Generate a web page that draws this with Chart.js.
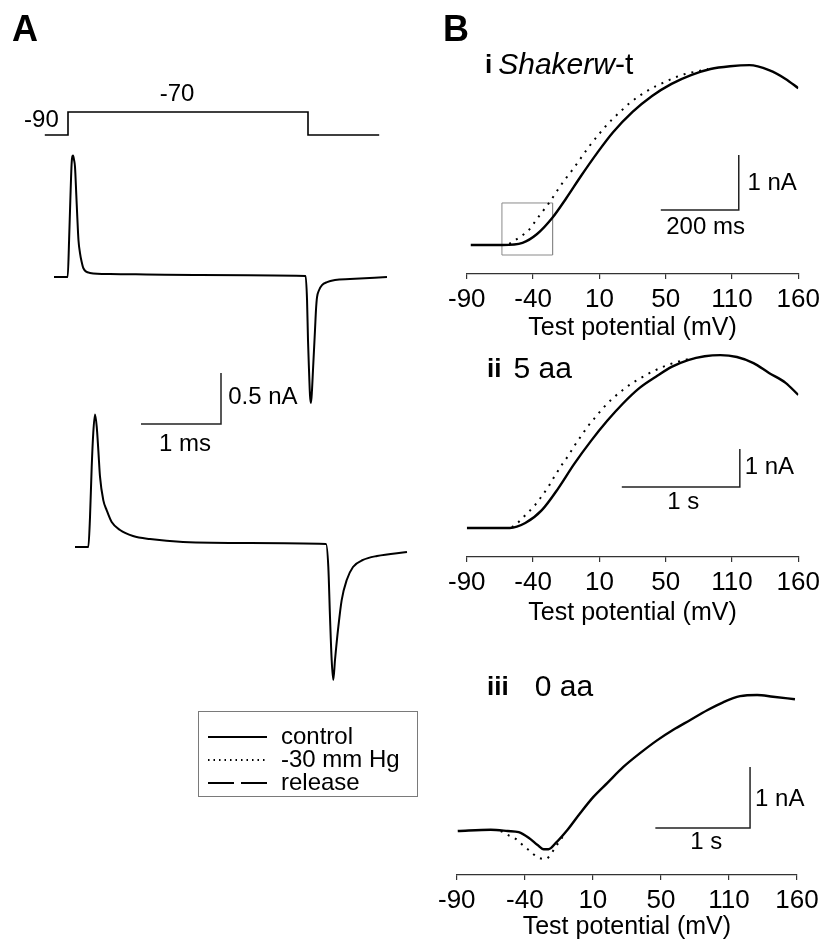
<!DOCTYPE html>
<html><head><meta charset="utf-8">
<script src="https://cdn.jsdelivr.net/npm/chart.js@4.4.0/dist/chart.umd.min.js"></script>
<style>
html,body{margin:0;padding:0;background:#fff;}
#wrap{position:relative;width:828px;height:942px;overflow:hidden;background:#fff;}
canvas{position:absolute;}
.plabel{position:absolute;font:bold 36px 'Liberation Sans',Arial,sans-serif;color:#000;line-height:36px;}
</style></head><body>
<div id="wrap">
<canvas id="cA" style="left:0px;top:0px;width:440px;height:820px" width="440" height="820"></canvas>
<canvas id="cB1" style="left:440px;top:40px;width:388px;height:303px" width="388" height="303"></canvas>
<canvas id="cB2" style="left:440px;top:343px;width:388px;height:285px" width="388" height="285"></canvas>
<canvas id="cB3" style="left:430px;top:628px;width:398px;height:314px" width="398" height="314"></canvas>
<div class="plabel" style="left:12px;top:11px">A</div>
<div class="plabel" style="left:443px;top:11px">B</div>
</div>
<script>
// ---------------- DATA ----------------
// Panel A: voltage protocol (ms, mV)
const protoTime = [-0.29, 0, 0, 3.0, 3.0, 3.89];
const protoVolt = [-90, -90, -70, -70, -90, -90];
// Panel A: upper current trace (ms, nA)
const trace1Time = [-0.175, -0.004, 0.014, 0.029, 0.046, 0.0625, 0.075, 0.0875, 0.104, 0.116, 0.131, 0.15, 0.171, 0.191, 0.275, 0.525, 1.65, 2.97, 2.988, 3.0, 3.0125, 3.025, 3.0375, 3.05, 3.0625, 3.0875, 3.1, 3.1125, 3.1375, 3.175, 3.2375, 3.3375, 3.525, 3.9875];
const trace1Curr = [0, 0, 0.37, 0.75, 1.12, 1.19, 1.15, 1.08, 0.8, 0.59, 0.36, 0.235, 0.147, 0.088, 0.04, 0.03, 0.02, 0.01, -0.225, -0.62, -0.91, -1.16, -1.235, -1.11, -0.91, -0.52, -0.32, -0.2, -0.13, -0.08, -0.05, -0.03, -0.02, 0];
// Panel A: lower current trace (ms, nA)
const trace2Time = [0.0875, 0.254, 0.275, 0.296, 0.316, 0.3375, 0.359, 0.379, 0.4, 0.441, 0.484, 0.546, 0.65, 0.8125, 1.025, 1.4375, 2.275, 3.225, 3.254, 3.275, 3.296, 3.316, 3.3375, 3.379, 3.421, 3.484, 3.5625, 3.6875, 3.8625, 4.2375];
const trace2Curr = [0, 0, 0.29, 0.78, 1.12, 1.30, 1.18, 0.95, 0.69, 0.46, 0.36, 0.245, 0.167, 0.108, 0.078, 0.049, 0.039, 0.029, -0.196, -0.686, -1.108, -1.304, -1.108, -0.784, -0.52, -0.324, -0.196, -0.127, -0.088, -0.049];
const legendLabels = ['control', '-30 mm Hg', 'release'];
const protoLabels = ['-90', '-70'];

// Panel B: test-potential axis
const tickPositions = [-90, -40, 10, 60, 110, 160];
const tickLabels = ['-90', '-40', '10', '50', '110', '160'];
const axisTitle = 'Test potential (mV)';

// B i  Shaker w-t
const b1Volt = [-87, -63, -48, -37, -25.3, -15, -4, 8.5, 20.3, 35, 49.7, 64.4, 79.1, 93.8, 108.5, 123.2, 137.9, 150.4, 160];
const b1Ctrl = [0, 0, 0.04, 0.2, 0.5, 0.85, 1.25, 1.68, 2.05, 2.42, 2.71, 2.93, 3.09, 3.2, 3.25, 3.27, 3.18, 3.02, 2.85];
const b1DotVolt = [-58, -49.6, -42.9, -37.8, -31.9, -27.5, -20.1, -15, -9.9, -4, 1.9, 8.5, 14.4, 20.3, 26.9, 32.8, 40.1, 46, 52.6, 60, 67.4, 74.7, 84.3, 92];
const b1Dot = [0.02, 0.15, 0.28, 0.45, 0.64, 0.78, 1.05, 1.22, 1.38, 1.58, 1.78, 1.98, 2.15, 2.3, 2.45, 2.58, 2.71, 2.8, 2.89, 2.97, 3.05, 3.11, 3.16, 3.2];

// B ii  5 aa
const b2Volt = [-90, -57.6, -45.9, -33.4, -20.9, -9.1, 3.4, 15.9, 27.6, 40.1, 52.6, 64.4, 76.9, 89.4, 101.2, 113.7, 126.2, 137.9, 150.4, 160];
const b2Ctrl = [0, 0, 0.13, 0.47, 1.05, 1.68, 2.28, 2.82, 3.27, 3.68, 3.98, 4.24, 4.42, 4.52, 4.55, 4.5, 4.34, 4.08, 3.82, 3.5];
const b2DotVolt = [-56, -51.8, -44.4, -39.3, -34.9, -28.2, -23.8, -18.7, -13.5, -9.1, -4, 1.2, 7.1, 12.9, 20.3, 27.6, 35, 42.4, 49.7, 60, 69.6, 79.1];
const b2Dot = [0.02, 0.13, 0.39, 0.57, 0.77, 1.1, 1.36, 1.64, 1.9, 2.15, 2.41, 2.67, 2.92, 3.16, 3.42, 3.63, 3.82, 3.97, 4.11, 4.27, 4.38, 4.46];

// B iii  0 aa
const b3Volt = [-89.3, -65.1, -52.6, -44.5, -37.2, -30.6, -26.2, -22.6, -17.4, -8.6, 0.9, 10.4, 20.7, 32.4, 44.9, 57.4, 69.1, 81.6, 94, 105.7, 118.2, 130.7, 142.4, 158.5];
const b3Ctrl = [0, 0.02, 0, -0.02, -0.11, -0.23, -0.3, -0.3, -0.2, 0.02, 0.3, 0.56, 0.79, 1.05, 1.28, 1.49, 1.66, 1.82, 1.98, 2.11, 2.21, 2.23, 2.2, 2.16];
const b3DotVolt = [-57.7, -51.9, -46.7, -41.6, -37.2, -30.6, -24.8, -21.1, -17.4, -12.3];
const b3Dot = [0, -0.07, -0.13, -0.23, -0.31, -0.43, -0.46, -0.39, -0.26, -0.1];

// ---------------- RENDERING ----------------
const FONT = "'Liberation Sans', Arial, Helvetica, sans-serif";
Chart.defaults.font.family = FONT;
Chart.defaults.color = '#000';

const DASH_DOT = [2, 6];
const DASH_LEG_DOT = [1.5, 4];
const DASH_LEG_REL = [26, 7];

function pts(xs, ys, dy) { dy = dy || 0; return xs.map((x, i) => ({x: x, y: ys[i] + dy})); }
function lineDS(data, opt) {
  return Object.assign({data: data, borderColor: '#000', backgroundColor: '#000', borderWidth: 2,
    pointRadius: 0, fill: false, tension: 0, cubicInterpolationMode: 'monotone'}, opt || {});
}
function barDS(x0, x1, y0, y1, yAxisID) {
  return lineDS([{x: x0, y: y0}, {x: x1, y: y0}, {x: x1, y: y1}],
    {borderWidth: 1.5, cubicInterpolationMode: 'default', yAxisID: yAxisID || 'y', borderColor: '#222'});
}

function makeTextPlugin(items, legend) {
  return {
    id: 'txt',
    afterDatasetsDraw(chart) {
      const ctx = chart.ctx;
      if (legend) {
        ctx.save();
        ctx.strokeStyle = '#7a7a7a'; ctx.lineWidth = 1;
        ctx.strokeRect(legend.x + 0.5, legend.y + 0.5, legend.w, legend.h);
        legendLabels.forEach((lab, i) => {
          const y = legend.rowY[i];
          ctx.beginPath(); ctx.setLineDash(legend.dashes[i]); ctx.lineWidth = 2; ctx.strokeStyle = '#000';
          ctx.moveTo(legend.lineX0, y); ctx.lineTo(legend.lineX1, y); ctx.stroke();
          ctx.setLineDash([]);
          ctx.font = legend.font; ctx.fillStyle = '#000'; ctx.textBaseline = 'middle'; ctx.textAlign = 'left';
          ctx.fillText(lab, legend.textX, y);
        });
        ctx.restore();
      }
      items.forEach(it => {
        let px, py;
        if (it.pixel) { px = it.x; py = it.y; }
        else {
          px = chart.scales[it.xAxis || 'x'].getPixelForValue(it.x);
          py = chart.scales[it.yAxis || 'y'].getPixelForValue(it.y);
        }
        const segs = it.segs || [{text: it.text, font: it.font}];
        ctx.save();
        ctx.fillStyle = '#000'; ctx.textBaseline = 'middle'; ctx.textAlign = 'left';
        const ws = segs.map(s => { ctx.font = s.font; return ctx.measureText(s.text).width + (s.gap || 0); });
        const total = ws.reduce((a, b) => a + b, 0);
        let x0 = px;
        if (it.align === 'center') x0 -= total / 2; else if (it.align === 'right') x0 -= total;
        segs.forEach((s, i) => { ctx.font = s.font; ctx.fillText(s.text, x0, py); x0 += ws[i]; });
        ctx.restore();
      });
    }
  };
}

// ---------- Panel A ----------
(function () {
  const W = 440, H = 820;
  const PX_PER_MS = 80, T0_PX = 68;
  const PX_PER_NA = 102, BASE2_PX = 547;
  const PX_PER_MV = 1.15, M90_PX = 135;
  const TRACE1_OFFSET = (BASE2_PX - 277) / PX_PER_NA;
  const xMin = -T0_PX / PX_PER_MS, xMax = (W - T0_PX) / PX_PER_MS;
  const yMax = BASE2_PX / PX_PER_NA, yMin = (BASE2_PX - H) / PX_PER_NA;
  const vMax = -90 + M90_PX / PX_PER_MV, vMin = -90 - (H - M90_PX) / PX_PER_MV;
  const sbX = 1.9125, sbY = 1.206;
  const f = '24px ' + FONT;
  const items = [
    {text: protoLabels[0], font: f, x: -0.115, y: -77, yAxis: 'yV', align: 'right'},
    {text: protoLabels[1], font: f, x: 1.3625, y: -54.3, yAxis: 'yV', align: 'center'},
    {text: '0.5 nA', font: f, x: sbX + 0.09, y: sbY + 0.26, align: 'left'},
    {text: '1 ms', font: f, x: sbX - 0.45, y: sbY - 0.2, align: 'center'}
  ];
  const legend = {x: 198, y: 711, w: 219, h: 85, rowY: [737, 760, 783], lineX0: 208, lineX1: 267, textX: 281,
    font: '24px ' + FONT, dashes: [[], DASH_LEG_DOT, DASH_LEG_REL]};
  new Chart(document.getElementById('cA'), {
    type: 'line',
    data: {datasets: [
      lineDS(pts(protoTime, protoVolt), {yAxisID: 'yV', borderWidth: 1.6, cubicInterpolationMode: 'default'}),
      lineDS(pts(trace1Time, trace1Curr, TRACE1_OFFSET), {borderWidth: 2}),
      lineDS(pts(trace2Time, trace2Curr), {borderWidth: 2}),
      barDS(sbX - 1, sbX, sbY, sbY + 0.5)
    ]},
    options: {
      responsive: false, animation: false, events: [],
      layout: {padding: 0},
      plugins: {legend: {display: false}, tooltip: {enabled: false}},
      scales: {
        x: {type: 'linear', display: false, min: xMin, max: xMax},
        y: {type: 'linear', display: false, min: yMin, max: yMax},
        yV: {type: 'linear', display: false, min: vMin, max: vMax}
      }
    },
    plugins: [makeTextPlugin(items, legend)]
  });
})();

// ---------- Panel B ----------
function makeB(id, cfg) {
  const yMin = (cfg.base - cfg.axis) / cfg.ppn;
  const yMax = (cfg.base - cfg.top) / cfg.ppn;
  const scaleH = cfg.height - (cfg.axis - cfg.top);
  const datasets = [
    lineDS(pts(cfg.dotV, cfg.dotI), {borderWidth: 2, borderDash: DASH_DOT}),
    lineDS(pts(cfg.ctrlV, cfg.ctrlI), {borderWidth: 2.4}),
    barDS(cfg.bar.x - cfg.bar.w, cfg.bar.x, cfg.bar.y, cfg.bar.y + 1)
  ].concat(cfg.extra || []);
  const sf = '24px ' + FONT;
  const items = [
    {text: '1 nA', font: sf, x: cfg.bar.x + cfg.nA.dx, y: cfg.bar.y + cfg.nA.dy, align: 'left'},
    {text: cfg.timeLabel, font: sf, x: cfg.bar.x + cfg.t.dx, y: cfg.bar.y + cfg.t.dy, align: 'center'},
    {pixel: true, x: cfg.title.x, y: cfg.title.y, segs: cfg.title.segs}
  ];
  new Chart(document.getElementById(id), {
    type: 'line',
    data: {datasets: datasets},
    options: {
      responsive: false, animation: false, events: [],
      layout: {padding: {left: cfg.padL, right: cfg.padR, top: 0, bottom: 0}},
      plugins: {legend: {display: false}, tooltip: {enabled: false}},
      scales: {
        x: {
          type: 'linear', position: 'bottom', min: -90, max: 160,
          afterBuildTicks: s => { s.ticks = tickPositions.map(v => ({value: v})); },
          afterFit: s => { s.height = scaleH; },
          ticks: {callback: (v, i) => tickLabels[i], font: {size: 26, lineHeight: 1}, color: '#000',
            padding: 8, maxRotation: 0, autoSkip: false},
          grid: {display: true, drawOnChartArea: false, drawTicks: true, tickLength: 5, color: '#333', lineWidth: 1.2},
          border: {display: true, color: '#333', width: 1.2},
          title: {display: true, text: axisTitle, font: {size: 25, lineHeight: 1.2}, color: '#000', padding: {top: 0, bottom: 0}}
        },
        y: {type: 'linear', display: false, min: yMin, max: yMax}
      }
    },
    plugins: [makeTextPlugin(items, null)]
  });
}

const bold = '700 26px ' + FONT, big = '30px ' + FONT, bigIt = 'italic 30px ' + FONT;

makeB('cB1', {
  top: 40, height: 303, axis: 274, base: 245, ppn: 55, padL: 23, padR: 25,
  ctrlV: b1Volt, ctrlI: b1Ctrl, dotV: b1DotVolt, dotI: b1Dot,
  bar: {x: 115.1, y: 0.636, w: 58.8}, nA: {dx: 6.5, dy: 0.49}, t: {dx: -25, dy: -0.31}, timeLabel: '200 ms',
  title: {x: 45, y: 26, segs: [{text: 'i', font: bold, gap: 6}, {text: 'Shakerw', font: bigIt}, {text: '-t', font: big}]},
  extra: [lineDS([{x: -63.5, y: 0.764}, {x: -25.3, y: 0.764}, {x: -25.3, y: -0.182}, {x: -63.5, y: -0.182}, {x: -63.5, y: 0.764}],
    {borderWidth: 1, borderColor: '#8a8a8a', cubicInterpolationMode: 'default'})]
});
makeB('cB2', {
  top: 343, height: 285, axis: 557, base: 528, ppn: 38, padL: 23, padR: 25,
  ctrlV: b2Volt, ctrlI: b2Ctrl, dotV: b2DotVolt, dotI: b2Dot,
  bar: {x: 115.9, y: 1.08, w: 89}, nA: {dx: 3.7, dy: 0.525}, t: {dx: -42.7, dy: -0.4}, timeLabel: '1 s',
  title: {x: 47, y: 27, segs: [{text: 'ii', font: bold, gap: 12}, {text: '5 aa', font: big}]}
});
makeB('cB3', {
  top: 628, height: 314, axis: 875, base: 831, ppn: 61, padL: 26, padR: 31,
  ctrlV: b3Volt, ctrlI: b3Ctrl, dotV: b3DotVolt, dotI: b3Dot,
  bar: {x: 125.5, y: 0.049, w: 69.6}, nA: {dx: 3.7, dy: 0.476}, t: {dx: -32.2, dy: -0.23}, timeLabel: '1 s',
  title: {x: 57, y: 60, segs: [{text: 'iii', font: bold, gap: 26}, {text: '0 aa', font: big}]}
});
</script>
</body></html>
